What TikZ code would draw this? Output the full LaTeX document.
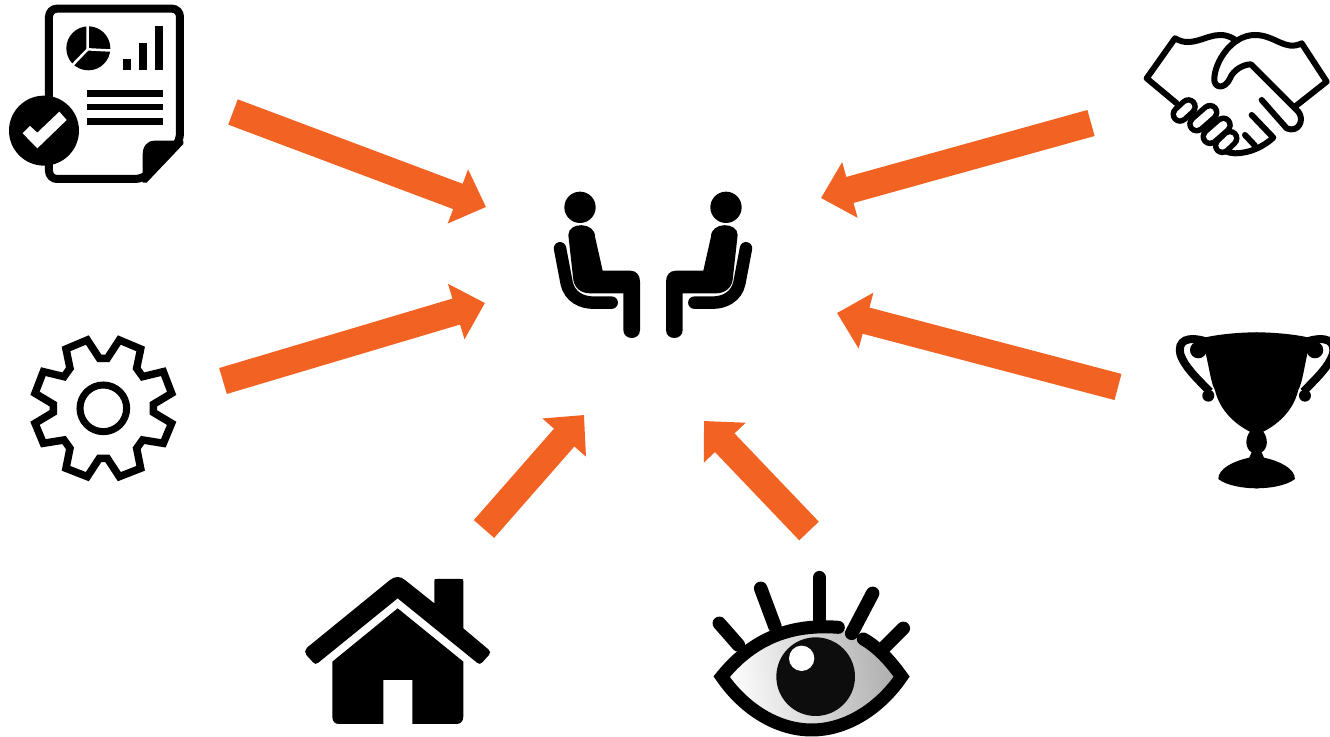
\documentclass[tikz,border=0pt]{standalone}
\usetikzlibrary{arrows.meta}
\definecolor{arroworange}{HTML}{F26222}
\tikzset{
  arrowline/.style={draw=arroworange, line width=.27cm, -{Triangle[length=.3cm,width=.56cm]}},
  iconline/.style={draw=black, line width=.06cm, line join=round, line cap=round},
  finger/.style={draw=black, line width=.055cm, double=white, double distance=.08cm, line cap=round},
  chairline/.style={draw=black, line width=.125cm, line cap=round},
  lash/.style={draw=black, line width=.135cm, line cap=round}
}
\begin{document}
\begin{tikzpicture}[x=.01cm,y=-.01cm]
\useasboundingbox (0,0) rectangle (1330,737);
% arrow ends
\coordinate (reporttail) at (233,112);
\coordinate (reporttip) at (486,207);
\coordinate (geartail) at (223,381);
\coordinate (geartip) at (485,303);
\coordinate (housetail) at (484,529);
\coordinate (housetip) at (584,415);
\coordinate (eyetail) at (809,531);
\coordinate (eyetip) at (704,421);
\coordinate (shaketail) at (1091,123);
\coordinate (shaketip) at (821,198);
\coordinate (cuptail) at (1118,387);
\coordinate (cuptip) at (837,313);
\draw[arrowline] (reporttail) -- (reporttip);
\draw[arrowline] (geartail) -- (geartip);
\draw[arrowline] (housetail) -- (housetip);
\draw[arrowline] (eyetail) -- (eyetip);
\draw[arrowline] (shaketail) -- (shaketip);
\draw[arrowline] (cuptail) -- (cuptip);
% two seated people
\foreach \side in {1,-1}{
\begin{scope}[shift={(653,180)},xscale=\side*.3333,yscale=.3333]
\fill (-219,82) circle (47);
\fill (-254,165) .. controls (-254,125) and (-174,125) .. (-174,170) -- (-151,272) -- (-69,272) .. controls (-50,272) and (-39,285) .. (-39,305) -- (-39,450) .. controls (-39,482) and (-89,482) .. (-89,450) -- (-89,340) -- (-189,340) .. controls (-215,340) and (-235,325) .. (-239,300) -- cycle;
\draw[chairline] (-279,205) -- (-259,310) .. controls (-250,350) and (-215,368) .. (-179,368) -- (-124,368);
\end{scope}
}
% report
\begin{scope}[scale=.3333]
\draw[line width=.08cm, rounded corners=.08cm] (147,537) -- (147,26) -- (540,26) -- (540,425) -- (430,537) -- cycle;
\fill (550,422) -- (465,422) .. controls (440,422) and (428,440) .. (428,465) -- (428,548) -- (440,548) -- (550,432) -- cycle;
\fill (265,145) circle (66);
\draw[white, line width=.025cm] (263,75) -- (263,148) -- (340,152);
\draw[white, line width=.025cm] (263,148) -- (215,198);
\fill (370,177) rectangle (392,210);
\fill (418,130) rectangle (440,210);
\fill (466,78) rectangle (488,210);
\fill (260,270) rectangle (488,290);
\fill (260,311) rectangle (488,331);
\fill (260,354) rectangle (488,374);
\fill (132,392) circle (105);
\fill[white] (68,400) -- (90,378) -- (112,398) -- (178,335) -- (200,360) -- (112,445) -- cycle;
\end{scope}
% gear
\begin{scope}[shift={(20,325)},scale=.3333]
\draw[line width=.075cm, line join=miter] (262,100) -- (298,45) -- (362,72) -- (350,130) -- (368,155) -- (430,140) -- (455,205) -- (400,238) -- (400,262) -- (455,295) -- (430,355) -- (368,345) -- (350,370) -- (362,430) -- (298,455) -- (262,400) -- (238,400) -- (202,455) -- (138,430) -- (150,370) -- (132,345) -- (70,355) -- (45,295) -- (100,262) -- (100,238) -- (45,205) -- (70,140) -- (132,155) -- (150,130) -- (138,72) -- (202,45) -- (238,100) -- cycle;
\draw[line width=.07cm] (250,250) circle (70);
\end{scope}
% house
\begin{scope}[shift={(295,565)},scale=.3333]
\fill (36,248) -- (285,45) .. controls (300,33) and (316,33) .. (330,45) -- (418,115) -- (418,50) .. controls (418,42) .. (426,42) -- (497,42) .. controls (505,42) .. (505,50) -- (505,190) -- (580,253) .. controls (587,259) and (587,264) .. (582,270) -- (562,292) .. controls (557,298) and (552,298) .. (546,293) -- (308,100) -- (70,293) .. controls (64,298) and (59,298) .. (54,292) -- (34,270) .. controls (29,264) and (29,254) .. (36,248) -- cycle;
\fill (308,130) -- (505,290) -- (505,455) .. controls (505,470) and (495,477) .. (485,477) -- (352,477) -- (352,345) -- (265,345) -- (265,477) -- (132,477) .. controls (120,477) and (112,470) .. (112,455) -- (112,290) -- cycle;
\end{scope}
% eye
\begin{scope}[shift={(700,565)},scale=.3333]
\shade[left color=white, right color=black!32, shading angle=100] (65,335) .. controls (150,230) and (260,175) .. (415,187) -- (490,222) .. controls (540,250) and (580,300) .. (605,335) .. controls (540,430) and (440,495) .. (335,495) .. controls (230,495) and (130,430) .. (65,335) -- cycle;
\draw[line width=.13cm, line cap=round, line join=miter] (415,187) .. controls (260,175) and (150,230) .. (65,335) .. controls (130,430) and (230,495) .. (335,495) .. controls (440,495) and (540,430) .. (605,335) .. controls (580,300) and (540,250) .. (490,222);
\draw[lash] (58,175) -- (115,240);
\draw[lash] (182,70) -- (225,185);
\draw[lash] (358,38) -- (358,175);
\draw[lash] (518,85) -- (455,205);
\draw[lash] (610,190) -- (555,245);
\fill[black!95] (347,335) circle (118);
\fill[white] (305,280) circle (38);
\end{scope}
% handshake
\begin{scope}[shift={(1135,25)},scale=.3333]
\draw[iconline] (125,235) -- (35,160) -- (120,40) .. controls (170,70) and (210,30) .. (255,30) .. controls (280,30) and (295,40) .. (305,48);
\draw[iconline] (480,245) -- (575,170) -- (500,55) .. controls (450,80) and (420,30) .. (360,30) .. controls (290,30) and (240,110) .. (238,160) .. controls (235,190) and (270,195) .. (285,160) .. controls (295,135) and (325,118) .. (348,118) -- (490,260) .. controls (510,285) and (490,325) .. (455,310) -- (380,225);
\draw[iconline] (350,270) -- (415,338) .. controls (385,365) and (345,385) .. (300,385) .. controls (280,385) and (260,375) .. (250,362);
\draw[iconline] (330,330) -- (360,362);
\draw[finger] (135,268) -- (160,245);
\draw[finger] (185,297) -- (225,262);
\draw[finger] (225,335) -- (265,300);
\draw[finger] (262,362) -- (285,340);
\end{scope}
% cup
\foreach \side in {1,-1}{
\begin{scope}[shift={(1256.6,325)},xscale=\side*.3333,yscale=.3333]
\fill (3,22) -- (0,22) .. controls (-60,22) and (-130,30) .. (-165,40) .. controls (-145,100) and (-140,170) .. (-125,195) .. controls (-110,260) and (-60,300) .. (-20,320) .. controls (-35,340) and (-35,370) .. (-15,382) -- (-22,398) .. controls (-68,408) and (-115,430) .. (-115,462) .. controls (-90,482) and (-40,490) .. (0,490) -- (3,490) -- cycle;
\fill (-175,75) circle (25);
\fill (-145,212) circle (18);
\draw[line width=.08cm] (-150,50) .. controls (-205,32) and (-240,45) .. (-228,90) .. controls (-215,125) and (-185,155) .. (-140,200);
\end{scope}
}
\end{tikzpicture}
\end{document}
